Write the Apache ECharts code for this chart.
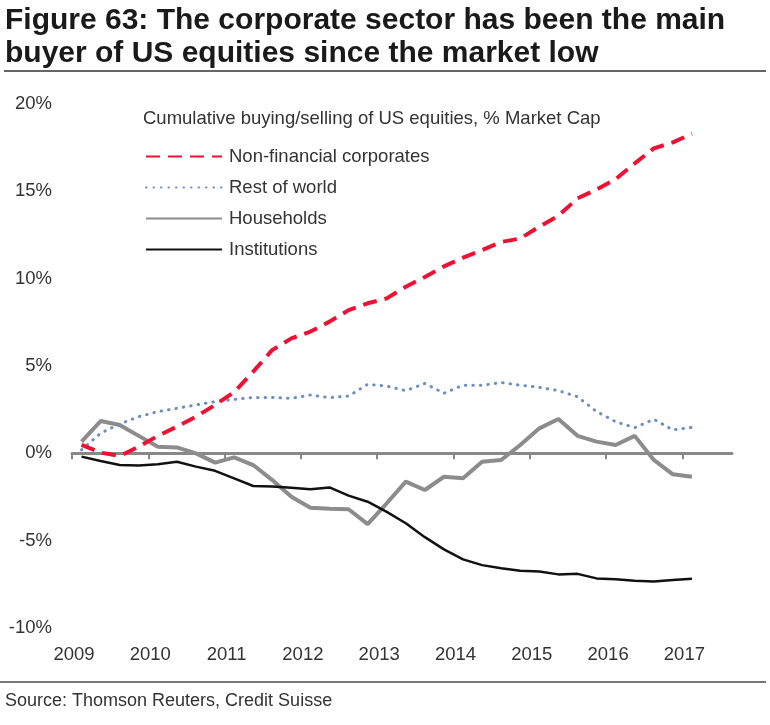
<!DOCTYPE html>
<html>
<head>
<meta charset="utf-8">
<script src="https://cdn.jsdelivr.net/npm/echarts@6/dist/echarts.min.js"></script>
<style>
  html, body { margin: 0; padding: 0; background: #fff; }
  #chart { width: 770px; height: 725px; }
</style>
</head>
<body>
<div id="chart"></div>
<script>
// quarterly points, 2009Q1 .. 2017Q1
const quarters = [
    '2009Q1', '2009Q2', '2009Q3', '2009Q4',
    '2010Q1', '2010Q2', '2010Q3', '2010Q4',
    '2011Q1', '2011Q2', '2011Q3', '2011Q4',
    '2012Q1', '2012Q2', '2012Q3', '2012Q4',
    '2013Q1', '2013Q2', '2013Q3', '2013Q4',
    '2014Q1', '2014Q2', '2014Q3', '2014Q4',
    '2015Q1', '2015Q2', '2015Q3', '2015Q4',
    '2016Q1', '2016Q2', '2016Q3', '2016Q4',
    '2017Q1',
];

const yearTicks = [2009, 2010, 2011, 2012, 2013, 2014, 2015, 2016, 2017];

// cumulative buying/selling, % of market cap
const nonFinancialCorporates = [
    0.48, 0.04, -0.15, 0.38, 1.0, 1.53, 2.1, 2.77,
    3.5, 4.68, 5.92, 6.58, 6.97, 7.54, 8.2, 8.59,
    8.87, 9.54, 10.1, 10.7, 11.2, 11.64, 12.1, 12.3,
    12.98, 13.6, 14.6, 15.1, 15.7, 16.6, 17.46, 17.8,
    18.3,
];
const restOfWorld = [
    0.2, 1.15, 1.68, 2.1, 2.39, 2.58, 2.77, 2.96,
    3.09, 3.2, 3.2, 3.15, 3.34, 3.19, 3.28, 3.95,
    3.85, 3.59, 4.0, 3.44, 3.9, 3.9, 4.05, 3.9,
    3.78, 3.59, 3.24, 2.39, 1.81, 1.47, 1.95, 1.34,
    1.49,
];
const households = [
    0.67, 1.85, 1.62, 1.0, 0.38, 0.34, 0.0, -0.53,
    -0.23, -0.67, -1.53, -2.48, -3.11, -3.17, -3.2, -4.05,
    -2.86, -1.62, -2.1, -1.34, -1.43, -0.48, -0.38, 0.48,
    1.43, 1.97, 1.0, 0.67, 0.48, 1.0, -0.38, -1.2,
    -1.34,
];
const institutions = [
    -0.19, -0.44, -0.67, -0.7, -0.63, -0.48, -0.76, -1.0,
    -1.43, -1.87, -1.9, -1.97, -2.06, -1.95, -2.42, -2.77,
    -3.35, -4.0, -4.8, -5.5, -6.07, -6.4, -6.58, -6.72,
    -6.77, -6.93, -6.9, -7.16, -7.21, -7.29, -7.34, -7.25,
    -7.18,
];

// put each quarter in the middle of its quarter on a year scale
function qx(label) {
    const year = parseInt(label.slice(0, 4), 10);
    const q = parseInt(label.slice(5), 10);
    return year + (q - 0.5) / 4;
}
function pairs(values) {
    return values.map((v, i) => [qx(quarters[i]), v]);
}

const FONT = '"Liberation Sans", Arial, sans-serif';
const SMALL = 18.5;

const chart = echarts.init(document.getElementById('chart'), null, { renderer: 'canvas' });

const option = {
    backgroundColor: '#fff',
    animation: false,
    textStyle: { fontFamily: FONT },
    title: [
        {
            text: 'Figure 63: The corporate sector has been the main\nbuyer of US equities since the market low',
            left: 0,
            top: -1,
            textStyle: { fontFamily: FONT, fontSize: 30, fontWeight: 'bold', color: '#1a1a1a', lineHeight: 33 },
        },
        {
            text: 'Cumulative buying/selling of US equities, % Market Cap',
            left: 138,
            top: 104,
            textStyle: { fontFamily: FONT, fontSize: SMALL, fontWeight: 'normal', color: '#333' },
        },
        {
            text: 'Source: Thomson Reuters, Credit Suisse',
            left: 0,
            top: 687,
            textStyle: { fontFamily: FONT, fontSize: 18, fontWeight: 'normal', color: '#333' },
        },
    ],
    graphic: [
        { type: 'line', shape: { x1: 4, y1: 71, x2: 766, y2: 71 }, style: { stroke: '#666', lineWidth: 2 } },
        { type: 'line', shape: { x1: 0, y1: 682, x2: 766, y2: 682 }, style: { stroke: '#777', lineWidth: 2 } },
    ],
    legend: {
        orient: 'vertical',
        left: 140,
        top: 142,
        itemWidth: 76,
        itemHeight: 14,
        itemGap: 12,
        itemStyle: { opacity: 0 },
        textStyle: { fontFamily: FONT, fontSize: SMALL, color: '#333', padding: [0, 0, 0, 2] },
        data: ['Non-financial corporates', 'Rest of world', 'Households', 'Institutions'],
    },
    grid: { left: 72, right: 38, top: 104, bottom: 97 },
    xAxis: [
        {
            type: 'value',
            min: 2009,
            max: 2017.65,
            interval: 1,
            axisLine: { show: true, onZero: true, lineStyle: { color: '#888', width: 3 } },
            axisTick: { show: true, length: 6, customValues: yearTicks, lineStyle: { color: '#888', width: 2 } },
            axisLabel: { show: false },
            splitLine: { show: false },
        },
        {
            type: 'value',
            position: 'bottom',
            min: 2009,
            max: 2017.65,
            interval: 1,
            axisLine: { show: false, onZero: false },
            axisTick: { show: false },
            axisLabel: {
                customValues: yearTicks,
                margin: 17,
                fontFamily: FONT,
                fontSize: SMALL,
                color: '#333',
                padding: [0, 0, 0, 4],
                formatter: v => String(v),
            },
            splitLine: { show: false },
        },
    ],
    yAxis: {
        type: 'value',
        min: -10,
        max: 20,
        interval: 5,
        axisLine: { show: false },
        axisTick: { show: false },
        splitLine: { show: false },
        axisLabel: {
            margin: 20,
            fontFamily: FONT,
            fontSize: SMALL,
            color: '#333',
            formatter: v => v + '%',
        },
    },
    series: [
        {
            name: 'Non-financial corporates',
            type: 'line',
            symbol: 'none',
            z: 5,
            color: '#ee1133',
            lineStyle: { color: '#ee1133', width: 4, type: [14, 8] },
            data: pairs(nonFinancialCorporates),
        },
        {
            name: 'Rest of world',
            type: 'line',
            symbol: 'none',
            z: 4,
            color: '#6d8fbf',
            lineStyle: { color: '#6d8fbf', width: 3, type: [0.5, 7], cap: 'round' },
            data: pairs(restOfWorld),
        },
        {
            name: 'Households',
            type: 'line',
            symbol: 'none',
            z: 3,
            color: '#8c8c8c',
            lineStyle: { color: '#8c8c8c', width: 4 },
            data: pairs(households),
        },
        {
            name: 'Institutions',
            type: 'line',
            symbol: 'none',
            z: 3,
            color: '#111',
            lineStyle: { color: '#111', width: 2.5 },
            data: pairs(institutions),
        },
    ],
};

chart.setOption(option);
</script>
</body>
</html>
